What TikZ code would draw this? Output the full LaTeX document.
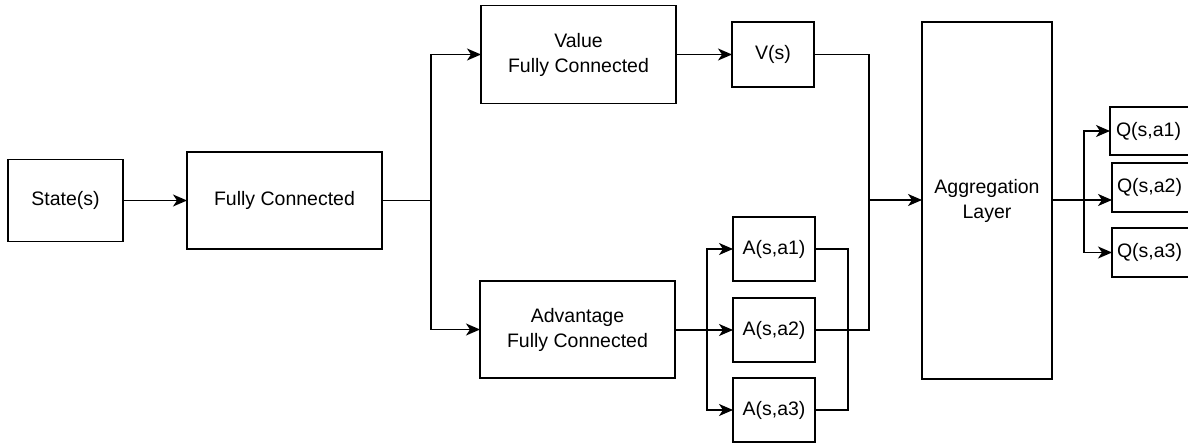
\documentclass[tikz,border=0pt]{standalone}
\usepackage{fontspec}
\setmainfont{Liberation Sans}
\usetikzlibrary{arrows.meta}
\begin{document}
\begin{tikzpicture}[x=1pt,y=-1pt,
  box/.style={draw,line width=1.5pt,inner sep=0pt,outer sep=0pt,align=center,
    font=\fontsize{19.5}{25}\selectfont},
  conn/.style={line width=1.5pt},
  arr/.style={line width=1.5pt,-{Stealth[length=14pt,width=12pt,inset=4pt]}}]
\useasboundingbox (0,0) rectangle (1188,444);
\clip (0,0) rectangle (1188,444);
\node[box,minimum width=115pt,minimum height=82pt] (state) at (65.5,200.5) {State(s)};
\node[box,minimum width=195pt,minimum height=97pt] (fc) at (284.5,200.5) {Fully Connected};
\node[box,minimum width=195pt,minimum height=98pt] (val) at (578.5,54.5) {Value\\Fully Connected};
\node[box,minimum width=82pt,minimum height=65pt] (vs) at (773,54.5) {V(s)};
\node[box,minimum width=195pt,minimum height=97pt] (adv) at (577.5,329.5) {Advantage\\Fully Connected};
\node[box,minimum width=82pt,minimum height=64pt] (a1) at (774,249) {A(s,a1)};
\node[box,minimum width=82pt,minimum height=64pt] (a2) at (774,330) {A(s,a2)};
\node[box,minimum width=82pt,minimum height=64pt] (a3) at (774,410) {A(s,a3)};
\node[box,minimum width=130pt,minimum height=357pt] (agg) at (987,200.5) {Aggregation\\Layer};
\node[box,minimum width=90pt,minimum height=48pt,text width=90pt,align=left] (q1) at (1155,131) {\hspace*{6pt}Q(s,a1)};
\node[box,minimum width=88pt,minimum height=49pt,text width=88pt,align=left] (q2) at (1156,187.5) {\hspace*{5pt}Q(s,a2)};
\node[box,minimum width=88pt,minimum height=49pt,text width=88pt,align=left] (q3) at (1156,252.5) {\hspace*{5pt}Q(s,a3)};
\coordinate (t1) at (431,200.5);
\coordinate (t2) at (707,330);
\coordinate (t3) at (848,249);
\coordinate (t4) at (869,200);
\coordinate (t5) at (1084,200);
\draw[arr] (state) -- (fc);
\draw[conn] (fc.east) -- (t1);
\draw[arr] (t1) |- (val.west);
\draw[arr] (t1) |- (adv.west);
\draw[arr] (val) -- (vs);
\draw[conn] (adv.east |- t2) -- (t2);
\draw[arr] (t2) |- (a1.west);
\draw[arr] (t2) -- (a2.west);
\draw[arr] (t2) |- (a3.west);
\draw[conn] (a1.east) -- (t3) |- (a3.east);
\draw[conn] (vs.east) -| (t4);
\draw[conn] (a2.east) -| (t4);
\draw[arr] (t4) -- (t4 -| agg.west);
\draw[conn] (agg.east |- t5) -- (t5);
\draw[arr] (t5) |- (q1.west);
\draw[arr] (t5) -- (t5 -| q2.west);
\draw[arr] (t5) |- (q3.west);
\end{tikzpicture}
\end{document}
